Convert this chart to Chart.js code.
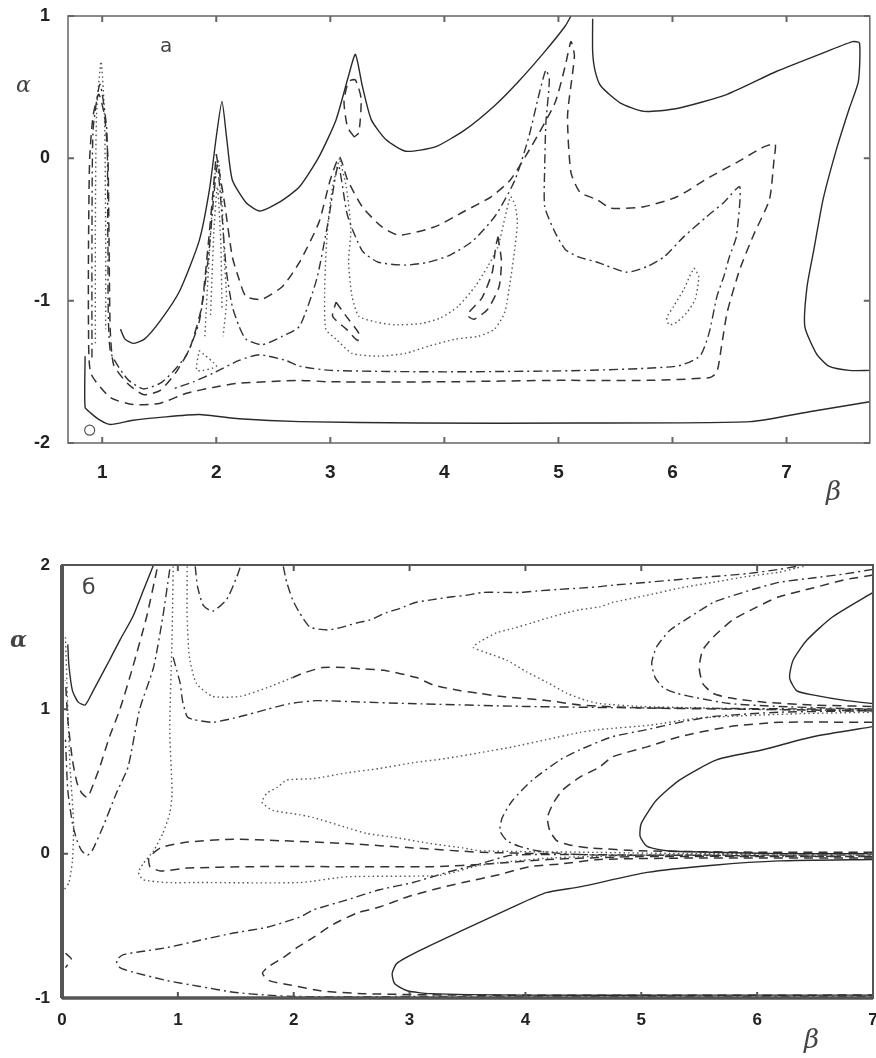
<!DOCTYPE html>
<html>
<head>
<meta charset="utf-8">
<script src="https://cdn.jsdelivr.net/npm/chart.js@4.4.0/dist/chart.umd.min.js"></script>
<style>
  body { margin: 0; background: #fff; }
  #page { position: relative; width: 876px; height: 1058px; overflow: hidden; }
  .box { position: absolute; left: 0; }
  .lbl { position: absolute; color: #444; line-height: 1; white-space: nowrap; }
  .greek { font-family: "DejaVu Serif", serif; font-style: italic; }
</style>
</head>
<body>
<div id="page">
  <div class="box" style="top:0"><canvas id="chartA" width="876" height="505"></canvas></div>
  <div class="box" style="top:530px"><canvas id="chartB" width="876" height="528"></canvas></div>
  <div class="lbl" style="left:160px;top:33px;font:20px 'DejaVu Sans',sans-serif">a</div>
  <div class="lbl greek" style="left:16px;top:74px;font-size:22px">α</div>
  <div class="lbl greek" style="left:826px;top:478px;font-size:26px">β</div>
  <div class="lbl" style="left:82px;top:574px;font:22px 'DejaVu Sans',sans-serif">б</div>
  <div class="lbl greek" style="left:10px;top:628px;font-size:22px;font-weight:bold">α</div>
  <div class="lbl greek" style="left:804px;top:1026px;font-size:26px">β</div>
</div>
<script>
// ---- tick labels ----
var aTicksX = [1, 2, 3, 4, 5, 6, 7];
var aTicksY = [-2, -1, 0, 1];
var bTicksX = [0, 1, 2, 3, 4, 5, 6, 7];
var bTicksY = [-1, 0, 1, 2];

// ---- panel a : contour lines (beta, alpha) ----
var aSolid1 = [[1.16,-1.20],[1.20,-1.27],[1.27,-1.30],[1.37,-1.27],[1.51,-1.14],[1.68,-0.93],[1.85,-0.58],[1.94,-0.22],[2.00,0.15],[2.05,0.40],[2.09,0.15],[2.14,-0.15],[2.26,-0.31],[2.38,-0.37],[2.55,-0.31],[2.73,-0.20],[2.90,0.01],[3.05,0.27],[3.16,0.58],[3.22,0.73],[3.28,0.51],[3.36,0.27],[3.49,0.13],[3.66,0.05],[3.92,0.08],[4.18,0.20],[4.44,0.37],[4.65,0.54],[4.88,0.75],[5.06,0.93],[5.11,1.0]];
var aSolid2 = [[5.30,0.98],[5.30,0.75],[5.32,0.62],[5.37,0.51],[5.54,0.39],[5.75,0.33],[6.04,0.35],[6.48,0.45],[6.91,0.61],[7.35,0.75],[7.58,0.82],[7.64,0.81],[7.63,0.54],[7.55,0.35],[7.44,0.07],[7.32,-0.29],[7.24,-0.64],[7.18,-0.90],[7.16,-1.18],[7.26,-1.37],[7.37,-1.46],[7.55,-1.49],[7.73,-1.49]];
var aSolid3 = [[0.85,-1.39],[0.85,-1.75],[0.90,-1.79],[0.98,-1.84],[1.07,-1.87],[1.27,-1.84],[1.51,-1.82],[1.85,-1.80],[2.20,-1.83],[2.73,-1.85],[3.77,-1.86],[5.17,-1.86],[6.68,-1.85],[7.20,-1.78],[7.73,-1.71]];
var aCircle = [[0.89,-1.91]];
var aDash1 = [[2.00,0.03],[2.07,-0.30],[2.14,-0.69],[2.20,-0.85],[2.26,-0.97],[2.40,-0.99],[2.58,-0.90],[2.73,-0.73],[2.90,-0.45],[3.00,-0.15],[3.08,0.01],[3.15,-0.15],[3.28,-0.34],[3.45,-0.48],[3.60,-0.54],[3.92,-0.48],[4.18,-0.37],[4.41,-0.27],[4.58,-0.15],[4.76,0.08],[4.97,0.39],[5.06,0.65],[5.11,0.82],[5.14,0.72],[5.08,0.30],[5.11,-0.10],[5.19,-0.24],[5.34,-0.29],[5.46,-0.35],[5.75,-0.34],[6.04,-0.27],[6.33,-0.13],[6.56,-0.03],[6.80,0.08],[6.90,0.10],[6.89,-0.01],[6.85,-0.29],[6.71,-0.54],[6.59,-0.78],[6.48,-1.08],[6.43,-1.32],[6.39,-1.50],[6.33,-1.54],[5.78,-1.56],[5.00,-1.56],[4.00,-1.57],[3.00,-1.57],[2.73,-1.56],[2.20,-1.58],[1.97,-1.61],[1.74,-1.65],[1.51,-1.72],[1.27,-1.73],[1.07,-1.68],[0.90,-1.51],[0.88,-1.20],[0.88,-0.60],[0.89,0.00],[0.92,0.30],[0.97,0.45],[1.02,0.30],[1.05,0.00],[1.06,-0.60],[1.07,-1.20],[1.10,-1.45],[1.22,-1.58],[1.36,-1.66],[1.51,-1.63],[1.65,-1.50],[1.77,-1.33],[1.87,-1.05],[1.93,-0.60],[1.97,-0.25],[2.00,0.03]];
var aDashDot1 = [[0.91,-1.40],[0.91,-0.60],[0.92,0.20],[0.98,0.52],[1.04,0.20],[1.05,-0.60],[1.07,-1.35],[1.22,-1.55],[1.36,-1.62],[1.51,-1.58],[1.62,-1.50],[1.74,-1.38],[1.85,-1.15],[1.93,-0.70],[1.98,-0.25],[2.01,-0.05],[2.05,-0.40],[2.09,-0.80],[2.14,-1.04],[2.20,-1.18],[2.26,-1.27],[2.40,-1.31],[2.58,-1.25],[2.73,-1.18],[2.88,-0.85],[2.98,-0.45],[3.07,-0.05],[3.15,-0.40],[3.28,-0.65],[3.42,-0.73],[3.66,-0.75],[3.86,-0.73],[4.05,-0.68],[4.25,-0.58],[4.45,-0.40],[4.62,-0.15],[4.74,0.15],[4.83,0.45],[4.89,0.62],[4.92,0.55],[4.89,0.25],[4.88,-0.05],[4.88,-0.34],[4.97,-0.52],[5.06,-0.64],[5.17,-0.69],[5.34,-0.73],[5.60,-0.80],[5.78,-0.76],[5.93,-0.69],[6.10,-0.55],[6.30,-0.41],[6.45,-0.31],[6.59,-0.20],[6.56,-0.55],[6.50,-0.69],[6.45,-0.83],[6.39,-0.97],[6.32,-1.23],[6.24,-1.39],[6.04,-1.46],[5.23,-1.49],[4.00,-1.50],[3.00,-1.49],[2.73,-1.46],[2.61,-1.42],[2.38,-1.38],[2.20,-1.42],[1.97,-1.51],[1.80,-1.57],[1.62,-1.62]];
var aDot1 = [[3.08,0.00],[3.02,-0.20],[2.98,-0.45],[2.96,-0.70],[2.95,-0.95],[2.96,-1.20],[3.05,-1.27],[3.19,-1.37],[3.42,-1.39],[3.66,-1.37],[3.86,-1.32],[4.10,-1.27],[4.30,-1.25],[4.44,-1.20],[4.53,-1.08],[4.58,-0.85],[4.62,-0.62],[4.64,-0.45],[4.62,-0.33],[4.58,-0.27],[4.53,-0.42],[4.47,-0.62],[4.38,-0.76],[4.27,-0.90],[4.12,-1.04],[3.97,-1.12],[3.80,-1.16],[3.57,-1.17],[3.40,-1.15],[3.25,-1.11],[3.19,-0.97],[3.16,-0.73],[3.18,-0.50],[3.14,-0.20],[3.08,0.00]];
var aDash2 = [[3.05,-1.01],[3.14,-1.11],[3.25,-1.23],[3.24,-1.28],[3.14,-1.20],[3.02,-1.11],[3.05,-1.01]];
var aDash3 = [[4.47,-0.55],[4.50,-0.72],[4.48,-0.90],[4.38,-1.06],[4.26,-1.13],[4.20,-1.10],[4.33,-0.98],[4.42,-0.80],[4.45,-0.62],[4.47,-0.55]];
var aDash4 = [[3.21,0.15],[3.15,0.22],[3.12,0.40],[3.16,0.54],[3.22,0.55],[3.27,0.42],[3.25,0.18],[3.21,0.15]];
var aDot2 = [[6.19,-0.77],[6.23,-0.83],[6.20,-0.99],[6.13,-1.08],[6.04,-1.15],[5.97,-1.17],[5.95,-1.12],[6.01,-1.04],[6.10,-0.92],[6.15,-0.83],[6.19,-0.77]];
var aDot3 = [[1.90,-1.25],[1.93,-0.80],[1.96,-0.40],[1.99,-0.10],[2.02,-0.02],[2.05,-0.30],[2.07,-0.70],[2.09,-1.00],[2.06,-1.25]];
var aDot4 = [[1.95,-1.10],[1.98,-0.50],[2.01,-0.20],[2.04,-0.60],[2.05,-1.05]];
var aDot5 = [[1.85,-1.35],[2.00,-1.46],[1.83,-1.49],[1.85,-1.35]];
var aDot6 = [[0.94,-1.30],[0.94,-0.50],[0.95,0.30],[0.99,0.68],[1.02,0.30],[1.03,-0.50],[1.03,-1.20]];

// ---- panel б ----
var bSolid1 = [[0.79,2.0],[0.70,1.82],[0.61,1.64],[0.50,1.48],[0.41,1.34],[0.33,1.22],[0.27,1.13],[0.20,1.03],[0.14,1.05],[0.09,1.13],[0.06,1.30],[0.05,1.45]];
var bSolid2 = [[7.0,1.81],[6.65,1.64],[6.43,1.48],[6.31,1.34],[6.28,1.22],[6.34,1.13],[6.48,1.10],[6.77,1.06],[7.0,1.04]];
var bSolid3 = [[7.0,0.88],[6.48,0.81],[6.05,0.72],[5.65,0.65],[5.33,0.51],[5.13,0.37],[5.00,0.21],[4.99,0.12],[5.05,0.05],[5.22,0.02],[5.62,0.01],[6.19,0.00],[7.0,0.00]];
var bSolid4 = [[7.0,-0.04],[6.19,-0.05],[5.62,-0.08],[5.05,-0.13],[4.47,-0.23],[4.18,-0.27],[3.89,-0.37],[3.46,-0.53],[3.09,-0.67],[2.89,-0.76],[2.85,-0.83],[2.87,-0.90],[2.98,-0.95],[3.18,-0.97],[4.0,-0.98],[5.5,-0.98],[7.0,-0.98]];
var bDash1 = [[0.82,1.97],[0.73,1.64],[0.61,1.29],[0.50,1.00],[0.41,0.81],[0.33,0.61],[0.27,0.48],[0.22,0.39],[0.17,0.42],[0.13,0.49],[0.09,0.65],[0.05,0.93],[0.03,1.20]];
var bDashDot1 = [[0.93,1.97],[0.87,1.64],[0.79,1.29],[0.67,1.00],[0.57,0.60],[0.47,0.42],[0.35,0.18],[0.26,0.02],[0.22,-0.01],[0.17,0.02],[0.13,0.09],[0.09,0.21],[0.05,0.44],[0.03,0.79]];
var bDot1 = [[0.96,1.99],[0.95,1.50],[0.93,0.86],[0.95,0.42],[0.93,0.28],[0.87,0.14],[0.79,0.02],[0.70,-0.07],[0.66,-0.13],[0.70,-0.18],[0.91,-0.20],[1.19,-0.20],[2.05,-0.20],[2.46,-0.16],[3.26,-0.15],[3.61,-0.08],[4.21,-0.03],[5.07,-0.01],[6.0,0.0],[7.0,0.0]];
var bDashDot2 = [[1.15,1.99],[1.17,1.85],[1.22,1.72],[1.30,1.68],[1.42,1.76],[1.51,1.92],[1.54,1.99]];
var bDot2 = [[1.08,1.99],[1.08,1.88],[1.08,1.64],[1.10,1.36],[1.16,1.18],[1.30,1.09],[1.54,1.09],[1.77,1.15],[1.99,1.22]];
var bDash2 = [[1.99,1.22],[2.08,1.25],[2.25,1.29],[2.44,1.29],[2.60,1.28],[2.78,1.27],[3.06,1.22],[3.20,1.17],[3.43,1.13],[3.61,1.11],[3.78,1.09],[4.20,1.06],[4.47,1.03],[5.0,1.01],[6.0,1.0],[7.0,0.99]];
var bDashDot3 = [[0.96,1.36],[0.99,1.27],[1.02,1.18],[1.04,1.06],[1.08,0.95],[1.13,0.93],[1.30,0.91],[1.54,0.95],[1.77,1.0],[1.97,1.04],[2.2,1.06],[2.6,1.05],[3.0,1.04],[4.0,1.02],[5.0,1.01],[7.0,1.0]];
var bDashDot4 = [[1.91,1.99],[1.94,1.88],[1.99,1.76],[2.05,1.67],[2.14,1.57],[2.29,1.55],[2.42,1.57],[2.55,1.60],[2.66,1.62],[2.80,1.67],[2.92,1.70],[3.05,1.74],[3.20,1.76],[3.37,1.78],[3.49,1.79],[3.63,1.81],[3.81,1.81],[3.95,1.81],[4.10,1.82],[4.27,1.83],[4.47,1.84],[4.64,1.85],[4.75,1.86],[5.05,1.88],[5.33,1.90],[5.62,1.92],[5.91,1.94],[6.19,1.97],[6.34,1.99]];
var bDot3 = [[6.40,1.99],[6.34,1.98],[6.19,1.95],[5.91,1.92],[5.62,1.88],[5.33,1.84],[5.05,1.79],[4.75,1.74],[4.64,1.71],[4.47,1.69],[4.36,1.67],[4.18,1.63],[4.06,1.60],[3.89,1.56],[3.75,1.53],[3.61,1.47],[3.55,1.43],[3.67,1.39],[3.84,1.34],[4.01,1.26],[4.18,1.19],[4.36,1.11],[4.53,1.06],[4.64,1.04],[5.0,1.02],[5.5,1.01],[6.0,1.0],[7.0,0.99]];
var bDashDot5 = [[7.0,1.97],[6.77,1.94],[6.48,1.91],[6.19,1.88],[5.96,1.83],[5.76,1.78],[5.62,1.74],[5.42,1.64],[5.25,1.55],[5.13,1.43],[5.09,1.32],[5.12,1.22],[5.19,1.15],[5.31,1.11],[5.48,1.08],[5.76,1.04],[6.19,1.02],[7.0,1.0]];
var bDash3 = [[7.0,1.93],[6.77,1.90],[6.48,1.84],[6.19,1.78],[6.00,1.71],[5.79,1.62],[5.62,1.50],[5.53,1.41],[5.50,1.29],[5.53,1.18],[5.62,1.11],[5.76,1.08],[6.05,1.05],[6.48,1.03],[7.0,1.02]];
var bDashDot6 = [[7.0,0.99],[6.19,0.98],[5.62,0.95],[5.33,0.91],[5.05,0.86],[4.75,0.81],[4.47,0.72],[4.30,0.65],[4.06,0.51],[3.89,0.37],[3.80,0.25],[3.78,0.16],[3.84,0.09],[3.95,0.05],[4.10,0.02],[4.32,0.0],[4.64,-0.01],[5.5,-0.01],[7.0,-0.01]];
var bDash4 = [[7.0,0.91],[6.19,0.91],[5.76,0.88],[5.33,0.81],[5.05,0.74],[4.75,0.67],[4.64,0.60],[4.47,0.53],[4.32,0.44],[4.24,0.35],[4.19,0.25],[4.21,0.16],[4.27,0.09],[4.38,0.06],[4.56,0.04],[5.0,0.02],[6.0,0.01],[7.0,0.01]];
var bDot4 = [[7.0,0.98],[6.37,0.97],[5.5,0.94],[5.07,0.89],[4.64,0.86],[4.47,0.84],[4.18,0.79],[3.89,0.74],[3.61,0.70],[3.32,0.66],[3.03,0.63],[2.74,0.59],[2.46,0.56],[2.17,0.52],[1.94,0.51],[1.86,0.46],[1.77,0.42],[1.73,0.37],[1.73,0.35],[1.82,0.30],[2.05,0.27],[2.17,0.25],[2.46,0.18],[2.63,0.14],[2.89,0.11],[3.18,0.07],[3.46,0.04],[3.61,0.02],[4.5,0.01],[5.5,0.0],[7.0,0.0]];
var bDash5 = [[4.2,0.0],[3.61,0.01],[3.03,0.04],[2.46,0.07],[1.88,0.09],[1.48,0.10],[1.08,0.08],[0.85,0.04],[0.75,-0.03],[0.76,-0.09],[0.85,-0.12],[1.08,-0.10],[1.65,-0.09],[2.5,-0.09],[3.2,-0.09],[3.7,-0.07],[4.2,-0.04],[5.0,-0.02],[7.0,-0.02]];
var bDashDot7 = [[7.0,-0.02],[5.0,-0.01],[3.89,-0.01],[3.61,-0.07],[3.32,-0.13],[3.03,-0.20],[2.74,-0.25],[2.46,-0.32],[2.17,-0.39],[2.05,-0.44],[1.77,-0.51],[1.48,-0.55],[1.19,-0.60],[0.91,-0.65],[0.67,-0.68],[0.53,-0.70],[0.47,-0.74],[0.50,-0.79],[0.61,-0.82],[0.91,-0.88],[1.19,-0.92],[1.48,-0.96],[1.77,-0.98],[2.05,-0.99],[3.0,-0.99],[5.0,-0.99],[7.0,-0.99]];
var bDash6 = [[7.0,-0.03],[5.5,-0.03],[4.64,-0.04],[4.32,-0.07],[4.04,-0.09],[3.75,-0.15],[3.46,-0.20],[3.20,-0.25],[2.98,-0.30],[2.74,-0.37],[2.55,-0.41],[2.34,-0.49],[2.17,-0.58],[2.03,-0.65],[1.91,-0.72],[1.77,-0.79],[1.73,-0.83],[1.79,-0.88],[1.97,-0.91],[2.23,-0.95],[2.6,-0.97],[3.5,-0.98],[7.0,-0.98]];
var bDot5 = [[0.03,1.50],[0.05,1.00],[0.07,0.60],[0.10,0.20],[0.09,-0.05],[0.06,-0.20],[0.02,-0.25]];
var bDash7 = [[0.03,-0.69],[0.08,-0.73],[0.03,-0.79]];

// line looks
var SOLID = { color: '#2a2a2a', width: 1.4, dash: [] };
var DASH = { color: '#333', width: 1.5, dash: [9, 6] };
var DASHDOT = { color: '#333', width: 1.4, dash: [9, 4, 2, 4] };
var DOT = { color: '#555', width: 1.4, dash: [1.5, 3] };

function line(arr, look) {
  return {
    data: arr.map(function (p) { return { x: p[0], y: p[1] }; }),
    showLine: true,
    pointRadius: 0,
    borderColor: look.color,
    borderWidth: look.width,
    borderDash: look.dash,
    tension: 0.2,
    fill: false
  };
}

var frame = {
  id: 'frame',
  afterDatasetsDraw: function (chart, args, o) {
    var c = chart.ctx, a = chart.chartArea, sx = chart.scales.x, sy = chart.scales.y;
    c.save();
    c.strokeStyle = o.color;
    c.lineWidth = o.width;
    c.strokeRect(a.left, a.top, a.right - a.left, a.bottom - a.top);
    if (o.leftWidth) {
      c.lineWidth = o.leftWidth;
      c.beginPath(); c.moveTo(a.left, a.top); c.lineTo(a.left, a.bottom); c.stroke();
    }
    if (o.bottomWidth) {
      c.lineWidth = o.bottomWidth;
      c.beginPath(); c.moveTo(a.left, a.bottom); c.lineTo(a.right, a.bottom); c.stroke();
    }
    c.lineWidth = 2;
    sx.ticks.forEach(function (t) {
      var p = sx.getPixelForValue(t.value);
      c.beginPath();
      c.moveTo(p, a.bottom); c.lineTo(p, a.bottom - 6);
      c.moveTo(p, a.top); c.lineTo(p, a.top + 6);
      c.stroke();
    });
    sy.ticks.forEach(function (t) {
      var p = sy.getPixelForValue(t.value);
      c.beginPath();
      c.moveTo(a.left, p); c.lineTo(a.left + 6, p);
      c.moveTo(a.right, p); c.lineTo(a.right - 6, p);
      c.stroke();
    });
    c.restore();
  }
};

function axis(min, max, ticks, size, pad, fontSize, isX) {
  var s = {
    type: 'linear', min: min, max: max,
    grid: { display: false, drawTicks: false },
    border: { display: false },
    ticks: {
      padding: pad, color: '#222',
      font: { family: "'Liberation Sans Narrow', 'Liberation Sans', sans-serif", size: fontSize, weight: 'bold' },
      callback: function (v) { return String(v); }
    },
    afterBuildTicks: function (sc) { sc.ticks = ticks.map(function (v) { return { value: v }; }); }
  };
  s.afterFit = function (sc) {
    if (isX) sc.height = size; else sc.width = size;
    // keep the plot box where it is, even if edge labels stick out
    sc.paddingLeft = 0; sc.paddingRight = 0; sc.paddingTop = 0; sc.paddingBottom = 0;
  };
  return s;
}

function makeChart(id, sets, xs, ys, pad, frameOpts) {
  return new Chart(document.getElementById(id), {
    type: 'scatter',
    data: { datasets: sets },
    options: {
      responsive: false, animation: false, devicePixelRatio: 1,
      layout: { padding: pad },
      plugins: { legend: { display: false }, tooltip: { enabled: false }, frame: frameOpts },
      scales: { x: xs, y: ys }
    },
    plugins: [frame]
  });
}

var circle = {
  data: aCircle.map(function (p) { return { x: p[0], y: p[1] }; }),
  showLine: false, pointRadius: 5, pointStyle: 'circle',
  pointBorderColor: '#555', pointBackgroundColor: 'rgba(0,0,0,0)', pointBorderWidth: 1.2
};

makeChart('chartA', [
  line(aSolid1, SOLID), line(aSolid2, SOLID), line(aSolid3, SOLID), circle,
  line(aDash1, DASH), line(aDashDot1, DASHDOT),
  line(aDot1, DOT), line(aDash2, DASH), line(aDash3, DASH), line(aDash4, DASH),
  line(aDot2, DOT), line(aDot3, DOT), line(aDot4, DOT), line(aDot5, DOT), line(aDot6, DOT)
], axis(0.7, 7.73, aTicksX, 62, 18, 19, true), axis(-2, 1, aTicksY, 68, 18, 18, false),
  { left: 0, right: 2, top: 16, bottom: 0 }, { color: '#666', width: 1.5 });

makeChart('chartB', [
  line(bSolid1, SOLID), line(bSolid2, SOLID), line(bSolid3, SOLID), line(bSolid4, SOLID),
  line(bDash1, DASH), line(bDashDot1, DASHDOT), line(bDot1, DOT), line(bDashDot2, DASHDOT),
  line(bDot2, DOT), line(bDash2, DASH), line(bDashDot3, DASHDOT), line(bDashDot4, DASHDOT),
  line(bDot3, DOT), line(bDashDot5, DASHDOT), line(bDash3, DASH), line(bDashDot6, DASHDOT),
  line(bDash4, DASH), line(bDot4, DOT), line(bDash5, DASH), line(bDashDot7, DASHDOT),
  line(bDash6, DASH), line(bDot5, DOT), line(bDash7, DASH)
], axis(0, 7, bTicksX, 60, 12, 17, true), axis(-1, 2, bTicksY, 62, 12, 17, false),
  { left: 0, right: 3, top: 35, bottom: 0 }, { color: '#555', width: 2, leftWidth: 4, bottomWidth: 3.5 });
</script>
</body>
</html>
